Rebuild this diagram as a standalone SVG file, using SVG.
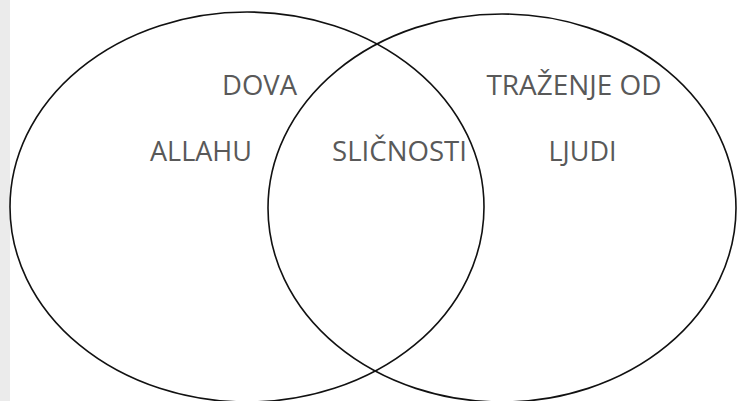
<svg xmlns="http://www.w3.org/2000/svg" width="737" height="401" viewBox="0 0 737 401">
<style>
.c{fill:none;stroke:#111;stroke-width:1.6}
.t{font-family:"Open Sans","Liberation Sans",sans-serif;font-size:27px;fill:#595959;text-anchor:middle}
</style>
<rect x="0" y="0" width="737" height="401" fill="#fff"/>
<rect x="0" y="0" width="10" height="401" fill="#ebebeb"/>
<g id="left-set">
<ellipse class="c" cx="247" cy="207" rx="237" ry="195"/>
<text class="t" x="259.5" y="95" textLength="75" lengthAdjust="spacingAndGlyphs">DOVA</text>
<text class="t" x="201" y="161" textLength="102" lengthAdjust="spacingAndGlyphs">ALLAHU</text>
</g>
<g id="right-set">
<ellipse class="c" cx="502" cy="208" rx="234" ry="194"/>
<text class="t" x="574" y="95" textLength="175" lengthAdjust="spacingAndGlyphs">TRAŽENJE OD</text>
<text class="t" x="582.5" y="161" textLength="68" lengthAdjust="spacingAndGlyphs">LJUDI</text>
</g>
<g id="intersection">
<text class="t" x="399.5" y="161" textLength="135" lengthAdjust="spacingAndGlyphs">SLIČNOSTI</text>
</g>
<g id="connectors"></g>
</svg>
